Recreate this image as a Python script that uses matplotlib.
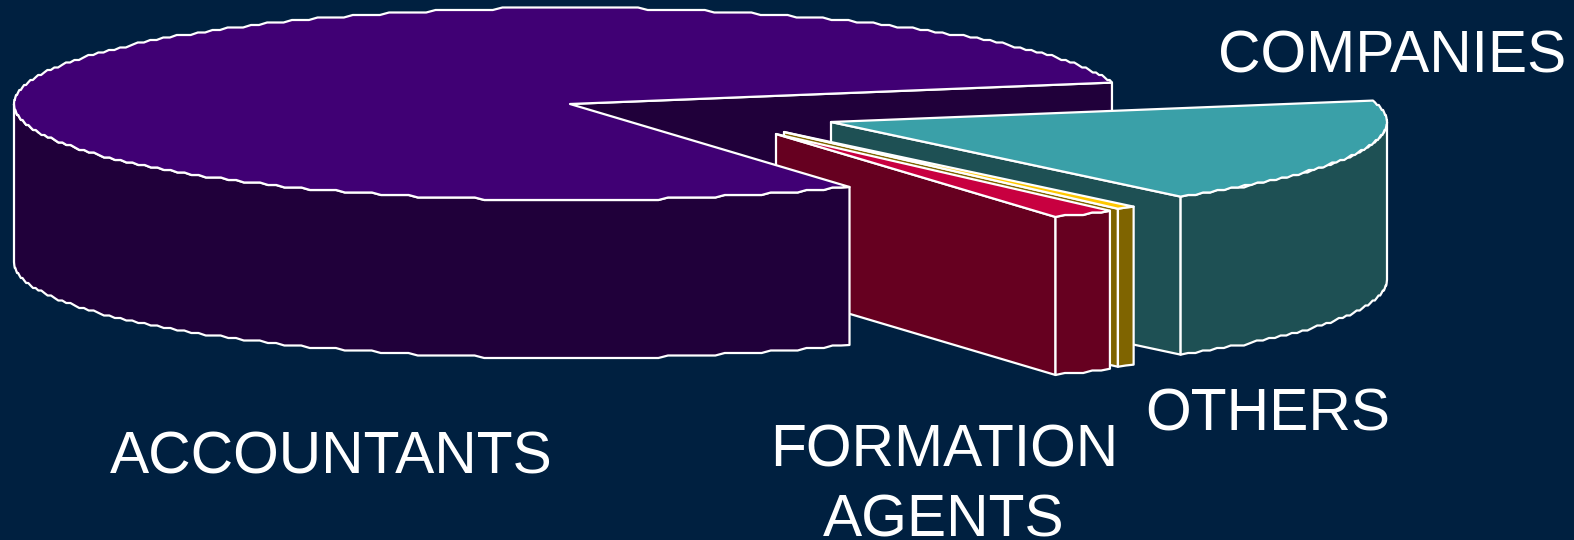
import numpy as np
import matplotlib
matplotlib.use("Agg")
import matplotlib.pyplot as plt
from matplotlib.patches import Polygon

labels = ["ACCOUNTANTS", "FORMATION\nAGENTS", "OTHERS", "COMPANIES"]
shares = [79.8, 1.87, 0.57, 17.76]
top_colors = ["#400074", "#c80040", "#ffc800", "#3aa0a8"]
side_colors = ["#20003a", "#660020", "#7f6400", "#1e5054"]

START_ANGLE = 12.9
RX, RY, DEPTH = 556, 96, 158
apexes = [(570, 104), (776, 134), (784, 132), (831, 122)]
label_pos = [(331, 458), (944, 486), (1268, 415), (1392, 57)]
BG = "#002040"
EDGE = "white"
LW = 1.6

plt.rcParams["font.family"] = ["Liberation Sans", "DejaVu Sans"]
fig = plt.figure(figsize=(15.74, 5.40), dpi=100, facecolor=BG)
ax = fig.add_axes([0, 0, 1, 1])
ax.set_xlim(0, 1574)
ax.set_ylim(540, 0)
ax.axis("off")

spans = []
a = START_ANGLE
for s in shares:
    b = a + s * 3.6
    spans.append((a, b))
    a = b
# spans are counter-clockwise; the last three slices wrap past 360 degrees


def arc(apex, a0, a1, grid=2.5):
    n = max(2, int(abs(a1 - a0) / 1.0) + 1)
    t = np.radians(np.linspace(a0, a1, n))
    x = apex[0] + RX * np.cos(t)
    y = apex[1] - RY * np.sin(t)
    yq = y.copy()
    yq[1:-1] = np.round(y[1:-1] / grid) * grid
    return np.column_stack([x, yq])


def poly(pts, color, lw=LW):
    ax.add_patch(Polygon(pts, closed=True, facecolor=color, edgecolor=EDGE,
                         linewidth=lw, joinstyle="round"))


def cut_face(apex, ang, color):
    t = np.radians(ang)
    p = (apex[0] + RX * np.cos(t), apex[1] - RY * np.sin(t))
    poly([apex, p, (p[0], p[1] + DEPTH), (apex[0], apex[1] + DEPTH)], color)


def outer_wall(apex, a0, a1, color):
    # only the part of the rim on the near side (180..360 degrees) is seen
    lo, hi = max(a0, 180), min(a1, 360)
    if hi <= lo:
        return
    top = arc(apex, lo, hi)
    bottom = top[::-1] + np.array([0, DEPTH])
    poly(np.vstack([top, bottom]), color)


def top_face(apex, a0, a1, color):
    poly(np.vstack([[apex], arc(apex, a0, a1)]), color)


def slice3d(i, cut_angle):
    a0, a1 = spans[i]
    cut_face(apexes[i], cut_angle, side_colors[i])
    outer_wall(apexes[i], a0, a1, side_colors[i])
    top_face(apexes[i], a0, a1, top_colors[i])


# back cut of the big slice
cut_face(apexes[0], spans[0][0], side_colors[0])
# detached slices from back to front
slice3d(3, spans[3][0])
slice3d(2, spans[2][0])
slice3d(1, spans[1][0])
# big slice in front
outer_wall(apexes[0], *spans[0], side_colors[0])
top_face(apexes[0], *spans[0], top_colors[0])

for lab, (x, y) in zip(labels, label_pos):
    ax.text(x, y, lab, color="white", fontsize=42.3, ha="center", va="center",
            linespacing=1.33)

fig.savefig("out.png", dpi=100, facecolor=BG)
